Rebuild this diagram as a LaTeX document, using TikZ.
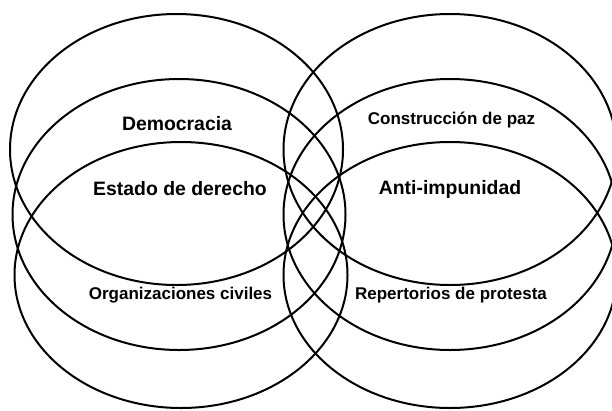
\documentclass[tikz,border=0pt]{standalone}
\usepackage{fontspec}
\setmainfont{Liberation Sans}
\usepackage{tikz}
\usetikzlibrary{shapes,positioning}
\tikzstyle{ring} = [ellipse, draw=black, line width=2pt, minimum width=333pt, minimum height=271pt, inner sep=0pt]
\tikzstyle{big} = [font=\fontsize{19.4}{23}\selectfont\bfseries]
\tikzstyle{small} = [font=\fontsize{17}{20}\selectfont\bfseries]

\begin{document}
\begin{tikzpicture}[x=1pt, y=-1pt]
	\path[use as bounding box, clip] (0,0) rectangle (612,410);
	% left column
	\node[ring] (demring) at (176.5,149.5) {};
	\node[ring] (estring) at (179,214.5) {};
	\node[ring, minimum height=266pt] (orgring) at (181,275) {};
	% right column
	\node[ring] (pazring) at (450,149.5) {};
	\node[ring] (antiring) at (450,214.5) {};
	\node[ring, minimum height=266pt] (repring) at (450,275) {};
	
	\node[big] (dem) at (177,124) {Democracia};
	\node[big] (est) at (180,189) {Estado de derecho};
	\node[small] (org) at (180.5,295) {Organizaciones civiles};
	\node[small] (paz) at (451.5,120) {Construcción de paz};
	\node[big] (anti) at (450,189) {Anti-impunidad};
	\node[small] (rep) at (451,295) {Repertorios de protesta};
\end{tikzpicture}
\end{document}
